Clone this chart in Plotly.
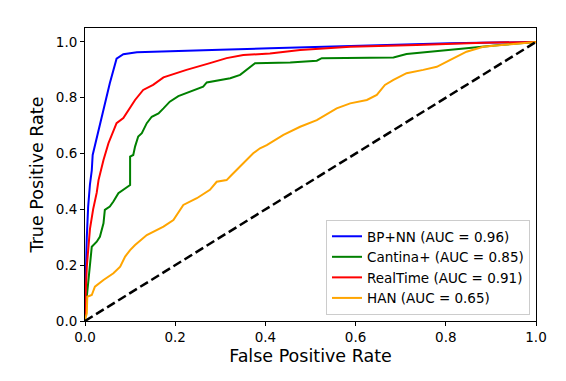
import plotly.graph_objects as go

names = ["BP+NN (AUC = 0.96)", "Cantina+ (AUC = 0.85)", "RealTime (AUC = 0.91)", "HAN (AUC = 0.65)"]
colors = ["#0000ff", "#008000", "#ff0000", "#ffa500"]

bp_fpr = [0, 0.0, 0.004, 0.007, 0.011, 0.015, 0.017, 0.03, 0.041, 0.055, 0.070, 0.085, 0.115, 0.2, 0.3, 0.41, 0.588, 0.809, 1.0]
bp_tpr = [0, 0.05, 0.30, 0.41, 0.49, 0.54, 0.595, 0.685, 0.756, 0.852, 0.94, 0.956, 0.963, 0.968, 0.972, 0.977, 0.986, 0.995, 1.0]

ca_fpr = [0, 0, 0.004, 0.007, 0.011, 0.015, 0.026, 0.033, 0.041, 0.044, 0.055, 0.063, 0.074, 0.096, 0.1, 0.1,
          0.107, 0.111, 0.118, 0.126, 0.137, 0.148, 0.163, 0.174, 0.188, 0.207, 0.240, 0.262, 0.270, 0.292, 0.322,
          0.344, 0.366, 0.377, 0.455, 0.514, 0.525, 0.61, 0.684, 0.713, 0.772, 0.846, 0.92, 1.0]
ca_tpr = [0, 0.015, 0.087, 0.135, 0.195, 0.266, 0.284, 0.302, 0.35, 0.398, 0.41, 0.428, 0.458, 0.481, 0.487, 0.589,
          0.595, 0.625, 0.661, 0.673, 0.709, 0.732, 0.744, 0.762, 0.786, 0.806, 0.828, 0.840, 0.855, 0.861, 0.870,
          0.882, 0.911, 0.924, 0.926, 0.933, 0.942, 0.944, 0.944, 0.957, 0.965, 0.977, 0.989, 1.0]

rt_fpr = [0, 0, 0.004, 0.007, 0.011, 0.018, 0.026, 0.03, 0.041, 0.052, 0.063, 0.070, 0.085, 0.096, 0.111, 0.129,
          0.151, 0.174, 0.225, 0.277, 0.314, 0.351, 0.41, 0.477, 0.588, 0.735, 0.883, 1.0]
rt_tpr = [0, 0.04, 0.195, 0.27, 0.33, 0.40, 0.46, 0.505, 0.577, 0.637, 0.685, 0.709, 0.727, 0.756, 0.792, 0.828,
          0.846, 0.873, 0.90, 0.924, 0.942, 0.953, 0.959, 0.971, 0.983, 0.989, 0.997, 1.0]

han_fpr = [0, 0, 0.004, 0.005, 0.015, 0.022, 0.041, 0.063, 0.078, 0.089, 0.1, 0.111, 0.137, 0.174, 0.196, 0.218,
           0.248, 0.277, 0.292, 0.314, 0.325, 0.336, 0.351, 0.373, 0.388, 0.403, 0.44, 0.477, 0.514, 0.558, 0.588,
           0.625, 0.647, 0.665, 0.684, 0.713, 0.75, 0.78, 0.809, 0.846, 0.883, 0.957, 1.0]
han_tpr = [0, 0.004, 0.027, 0.087, 0.093, 0.123, 0.147, 0.171, 0.195, 0.231, 0.254, 0.272, 0.308, 0.338, 0.362, 0.416,
           0.44, 0.47, 0.499, 0.505, 0.523, 0.541, 0.565, 0.601, 0.619, 0.630, 0.667, 0.696, 0.72, 0.762, 0.78,
           0.792, 0.81, 0.846, 0.864, 0.888, 0.90, 0.911, 0.935, 0.965, 0.983, 0.993, 1.0]

diag = [0, 1]
ticks = [0.0, 0.2, 0.4, 0.6, 0.8, 1.0]
tick_text = ["0.0", "0.2", "0.4", "0.6", "0.8", "1.0"]

series = [(bp_fpr, bp_tpr), (ca_fpr, ca_tpr), (rt_fpr, rt_tpr), (han_fpr, han_tpr)]

fig = go.Figure()
for (fx, ty), n, c in zip(series, names, colors):
    fig.add_trace(go.Scatter(x=fx, y=ty, mode="lines", name=n, line=dict(color=c, width=2)))
fig.add_trace(go.Scatter(x=diag, y=diag, mode="lines", showlegend=False,
                         line=dict(color="black", width=2.5, dash="9px,4px")))

font = "DejaVu Sans"
fig.update_layout(
    width=566, height=381,
    margin=dict(l=77, r=38, t=20, b=68),
    paper_bgcolor="white", plot_bgcolor="white",
    font=dict(family=font, size=13.5, color="black"),
    showlegend=True,
    legend=dict(x=0.9867, y=0.0205, xanchor="right", yanchor="bottom",
                bgcolor="rgba(255,255,255,0.8)", bordercolor="#cccccc", borderwidth=1,
                font=dict(family=font, size=13.5, color="black"), tracegroupgap=0),
)
fig.update_xaxes(range=[0, 1], tickvals=ticks, ticktext=tick_text, showgrid=False, zeroline=False,
                 showline=True, linecolor="black", linewidth=1, mirror=True,
                 ticks="outside", ticklen=4, tickcolor="black", tickfont=dict(size=13.5),
                 title=dict(text="False Positive Rate", font=dict(size=17.5), standoff=5))
fig.update_yaxes(range=[0, 1.05], tickvals=ticks, ticktext=tick_text, showgrid=False, zeroline=False,
                 showline=True, linecolor="black", linewidth=1, mirror=True,
                 ticks="outside", ticklen=4, tickcolor="black", tickfont=dict(size=13.5),
                 title=dict(text="True Positive Rate", font=dict(size=17.5), standoff=7))

fig.write_html("out.html")
